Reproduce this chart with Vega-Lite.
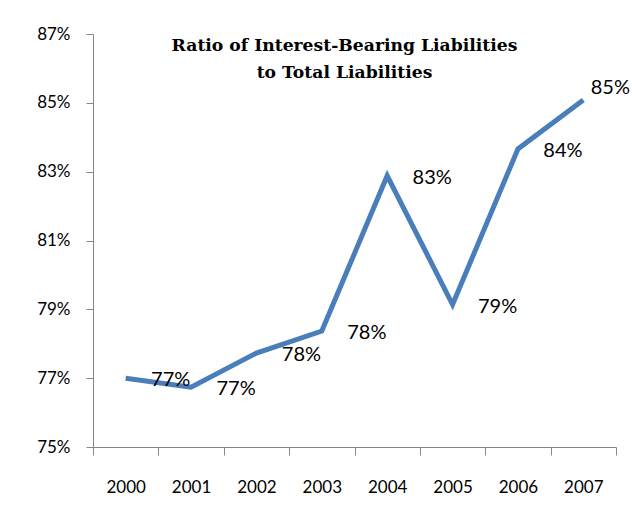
{
  "$schema": "https://vega.github.io/schema/vega-lite/v6.json",
  "width": 523,
  "height": 413,
  "autosize": {"type": "none"},
  "padding": {"left": 93, "top": 34, "right": 16, "bottom": 72},
  "background": "white",
  "config": {"view": {"stroke": null}, "font": "Lato"},
  "title": {
    "text": ["Ratio of Interest-Bearing Liabilities", "to Total Liabilities"],
    "font": "DejaVu Serif",
    "fontWeight": "bold",
    "fontSize": 17.2,
    "color": "black",
    "anchor": "middle",
    "orient": "top",
    "baseline": "top",
    "offset": -56,
    "dx": -10,
    "lineHeight": 27
  },
  "data": {
    "values": [
      {"year": "2000", "ratio": 77.0, "label": "77%"},
      {"year": "2001", "ratio": 76.74, "label": "77%"},
      {"year": "2002", "ratio": 77.73, "label": "78%"},
      {"year": "2003", "ratio": 78.37, "label": "78%"},
      {"year": "2004", "ratio": 82.88, "label": "83%"},
      {"year": "2005", "ratio": 79.14, "label": "79%"},
      {"year": "2006", "ratio": 83.66, "label": "84%"},
      {"year": "2007", "ratio": 85.08, "label": "85%"}
    ]
  },
  "encoding": {
    "x": {
      "field": "year",
      "type": "ordinal",
      "scale": {"type": "band", "paddingInner": 0, "paddingOuter": 0},
      "axis": {
        "title": null,
        "labelAngle": 0,
        "tickBand": "extent",
        "domainColor": "#868686",
        "tickColor": "#868686",
        "tickSize": 8,
        "labelPadding": 24,
        "labelFontSize": 17,
        "labelColor": "black",
        "labelFont": "Lato"
      }
    },
    "y": {
      "field": "ratio",
      "type": "quantitative",
      "scale": {"domain": [75, 87], "zero": false, "nice": false},
      "axis": {
        "title": null,
        "values": [75, 77, 79, 81, 83, 85, 87],
        "labelExpr": "datum.value + '%'",
        "grid": false,
        "domainColor": "#868686",
        "tickColor": "#868686",
        "tickSize": 7,
        "labelPadding": 16,
        "labelFontSize": 17,
        "labelColor": "black",
        "labelFont": "Lato"
      }
    }
  },
  "layer": [
    {
      "mark": {"type": "line", "color": "#4a7ebb", "strokeWidth": 5}
    },
    {
      "transform": [{"filter": "datum.year != '2007'"}],
      "mark": {"type": "text", "dx": 45, "dy": 2, "align": "center", "baseline": "middle", "fontSize": 20, "font": "Lato", "color": "black"},
      "encoding": {"text": {"field": "label"}}
    },
    {
      "transform": [{"filter": "datum.year == '2007'"}],
      "mark": {"type": "text", "dx": 27, "dy": -12, "align": "center", "baseline": "middle", "fontSize": 20, "font": "Lato", "color": "black"},
      "encoding": {"text": {"field": "label"}}
    }
  ]
}
